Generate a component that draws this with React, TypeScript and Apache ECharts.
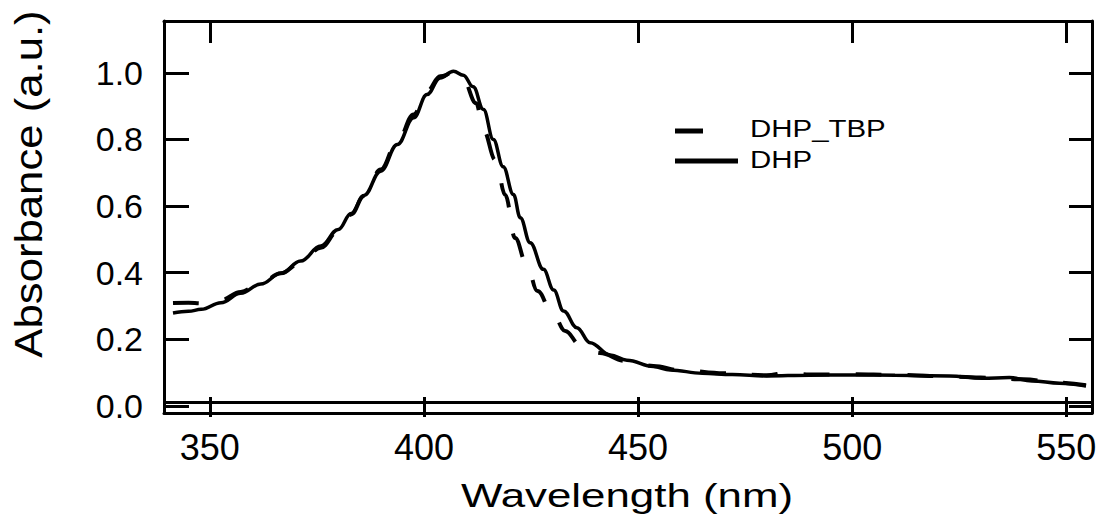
import React, { useEffect, useRef } from "react";
import * as echarts from "echarts";

// Wavelength (nm) and absorbance (a.u.)
const dhpWavelength = [341.4, 345, 348, 352.6, 357.2, 361.9, 366.6, 371.2, 375.9, 380, 383, 386, 389.9, 393.8, 397.6, 400.7, 403.8, 406.9, 409.2, 411.5, 413.9, 416.2, 418.5, 420.9, 422.5, 424.8, 427.9, 430.3, 432.6, 435.7, 438.8, 443.5, 447.4, 453.6, 457.5, 465, 472, 480, 490, 500, 510, 522.7, 530.4, 536.7, 542, 548.4, 554.6];
const dhpAbsorbance = [0.279, 0.284, 0.29, 0.31, 0.338, 0.366, 0.398, 0.435, 0.48, 0.53, 0.578, 0.632, 0.705, 0.785, 0.865, 0.935, 0.985, 1.005, 0.993, 0.958, 0.89, 0.8, 0.718, 0.635, 0.565, 0.49, 0.41, 0.348, 0.285, 0.235, 0.19, 0.153, 0.137, 0.118, 0.108, 0.098, 0.094, 0.09, 0.092, 0.093, 0.092, 0.09, 0.083, 0.085, 0.075, 0.068, 0.06];

const tbpWavelength = [341.4, 345, 348, 352.6, 357.2, 361.9, 366.6, 371.2, 375.9, 380, 383, 386, 389.9, 393.8, 397.6, 400.7, 403.8, 406.9, 409.2, 412.2, 413.9, 416.7, 419, 421.3, 423.9, 426.5, 430.2, 433, 436.5, 441.1, 447, 453.6, 460, 470, 480, 485, 490, 500, 510, 520, 530, 540, 548, 554.6];
const tbpAbsorbance = [0.309, 0.31, 0.308, 0.318, 0.342, 0.37, 0.398, 0.43, 0.475, 0.525, 0.575, 0.63, 0.71, 0.795, 0.875, 0.945, 0.99, 1.0, 0.979, 0.909, 0.828, 0.738, 0.633, 0.504, 0.429, 0.345, 0.273, 0.225, 0.183, 0.159, 0.135, 0.12, 0.107, 0.098, 0.092, 0.1, 0.094, 0.095, 0.093, 0.09, 0.085, 0.08, 0.07, 0.062];

const xTicks = [350, 400, 450, 500, 550];
const yTicks = [0, 0.2, 0.4, 0.6, 0.8, 1.0];
const seriesNames = ["DHP_TBP", "DHP"];
const xTitle = "Wavelength (nm)";
const yTitle = "Absorbance (a.u.)";

const X_MIN = 339.3;
const X_MAX = 556;
const Y_MIN = -0.0213;
const Y_MAX = 1.1558;
const FONT = "'Liberation Sans', Arial, Helvetica, sans-serif";

export default function App() {
  const ref = useRef<HTMLDivElement>(null);

  useEffect(() => {
    if (!ref.current) return;
    const chart = echarts.init(ref.current, null, { renderer: "svg" });
    const black = "#000";
    const zip = (xs: number[], ys: number[]) => xs.map((x, i) => [x, ys[i]]);

    const baseX = {
      type: "value" as const,
      min: X_MIN,
      max: X_MAX,
      splitLine: { show: false },
      gridIndex: 0,
    };
    const baseY = {
      type: "value" as const,
      min: Y_MIN,
      max: Y_MAX,
      splitLine: { show: false },
      gridIndex: 0,
    };

    chart.setOption({
      animation: false,
      backgroundColor: "#fff",
      grid: { left: 164, right: 12, top: 21, bottom: 103, containLabel: false },
      xAxis: [
        {
          ...baseX,
          position: "bottom",
          axisLine: { show: true, onZero: false, lineStyle: { color: black, width: 3 } },
          axisTick: { show: true, inside: true, length: 16, customValues: xTicks, lineStyle: { color: black, width: 3 } },
          axisLabel: {
            show: true,
            customValues: xTicks,
            color: black,
            fontFamily: FONT,
            fontSize: 36,
            margin: 16,
            formatter: (v: number) => String(Math.round(v)),
          },
        },
        {
          ...baseX,
          position: "bottom",
          axisLine: { show: false, onZero: false },
          axisTick: { show: true, inside: false, length: 4, customValues: xTicks, lineStyle: { color: black, width: 3 } },
          axisLabel: { show: false },
        },
        {
          ...baseX,
          position: "top",
          axisLine: { show: true, onZero: false, lineStyle: { color: black, width: 3 } },
          axisTick: { show: true, inside: true, length: 22, customValues: xTicks, lineStyle: { color: black, width: 3 } },
          axisLabel: { show: false },
        },
      ],
      yAxis: [
        {
          ...baseY,
          position: "left",
          axisLine: { show: true, onZero: false, lineStyle: { color: black, width: 3 } },
          axisTick: { show: true, inside: true, length: 25, customValues: yTicks, lineStyle: { color: black, width: 3 } },
          axisLabel: {
            show: true,
            customValues: yTicks,
            color: black,
            fontFamily: FONT,
            fontSize: 34,
            margin: 21,
            formatter: (v: number) => v.toFixed(1),
          },
        },
        {
          ...baseY,
          position: "right",
          axisLine: { show: true, onZero: false, lineStyle: { color: black, width: 3 } },
          axisTick: { show: true, inside: true, length: 23, customValues: yTicks, lineStyle: { color: black, width: 3 } },
          axisLabel: { show: false },
        },
      ],
      series: [
        {
          name: seriesNames[0],
          type: "line",
          xAxisIndex: 0,
          yAxisIndex: 0,
          data: zip(tbpWavelength, tbpAbsorbance),
          showSymbol: false,
          smooth: 0.4,
          smoothMonotone: "x",
          lineStyle: { color: black, width: 4, type: [26, 26] },
          markLine: {
            silent: true,
            symbol: ["none", "none"],
            label: { show: false },
            lineStyle: { color: black, width: 3, type: "solid" },
            data: [{ yAxis: 0.007 }],
          },
        },
        {
          name: seriesNames[1],
          type: "line",
          xAxisIndex: 0,
          yAxisIndex: 0,
          data: zip(dhpWavelength, dhpAbsorbance),
          showSymbol: false,
          smooth: 0.4,
          smoothMonotone: "x",
          lineStyle: { color: black, width: 3.5, type: "solid" },
        },
      ],
      graphic: [
        {
          type: "line",
          shape: { x1: 675, y1: 131, x2: 703, y2: 131 },
          style: { stroke: black, lineWidth: 5 },
        },
        {
          type: "line",
          shape: { x1: 675, y1: 161, x2: 738, y2: 161 },
          style: { stroke: black, lineWidth: 5 },
        },
        {
          type: "text",
          x: 750,
          y: 129,
          scaleX: 1.28,
          style: {
            text: seriesNames[0],
            fill: black,
            fontFamily: FONT,
            fontSize: 23,
            align: "left",
            verticalAlign: "middle",
          },
        },
        {
          type: "text",
          x: 750,
          y: 160,
          scaleX: 1.28,
          style: {
            text: seriesNames[1],
            fill: black,
            fontFamily: FONT,
            fontSize: 23,
            align: "left",
            verticalAlign: "middle",
          },
        },
        {
          type: "text",
          x: 627,
          y: 495,
          scaleX: 1.29,
          style: {
            text: xTitle,
            fill: black,
            fontFamily: FONT,
            fontSize: 34,
            align: "center",
            verticalAlign: "middle",
          },
        },
        {
          type: "text",
          x: 29,
          y: 184,
          rotation: Math.PI / 2,
          scaleX: 1.15,
          style: {
            text: yTitle,
            fill: black,
            fontFamily: FONT,
            fontSize: 38,
            align: "center",
            verticalAlign: "middle",
          },
        },
      ],
    });

    return () => chart.dispose();
  }, []);

  return (
    <div
      ref={ref}
      style={{ position: "fixed", left: 0, top: 0, width: 1104, height: 516, background: "#fff" }}
    />
  );
}
